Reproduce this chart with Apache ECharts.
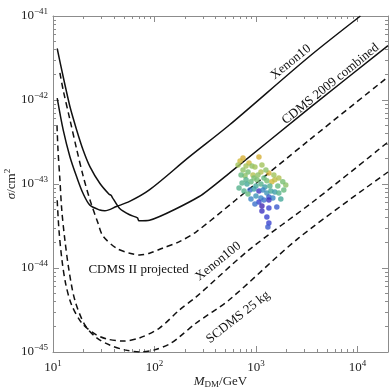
<!DOCTYPE html>
<html>
<head>
<meta charset="utf-8">
<script src="https://cdn.jsdelivr.net/npm/echarts@6/dist/echarts.min.js"></script>
<style>
  html, body { margin: 0; padding: 0; background: #fff; }
  #chart { width: 392px; height: 392px; }
</style>
</head>
<body>
<div id="chart"></div>
<script>
// exclusion curves, [M_DM in GeV, sigma in cm^2]
const xenon10 = [
  [11.0, 1.05e-42], [12.6, 4.4e-43], [14.7, 2.1e-43], [17.1, 1.22e-43], [19.8, 7.7e-44],
  [23.1, 5.6e-44], [28.9, 4.9e-44], [32.4, 4.8e-44], [42.2, 5.4e-44], [56.9, 6.2e-44],
  [89, 8.5e-44], [220, 2.1e-43], [543, 5.0e-43], [3311, 3.25e-42], [10700, 1e-41]
]
const cdms2009 = [
  [11.0, 4.1e-42], [12.6, 1.89e-42], [14.7, 8.3e-43], [17.1, 4.4e-43], [19.8, 2.54e-43],
  [23.1, 1.61e-43], [28.9, 1.02e-43], [35.5, 7.6e-44], [37.5, 7.3e-44], [38.5, 6.9e-44],
  [45.4, 5.1e-44], [56.9, 4.3e-44], [68, 3.95e-44], [70, 3.65e-44], [89.3, 3.7e-44],
  [276, 7.1e-44], [543, 1.34e-43], [3311, 7.9e-43], [20000, 4.44e-42]
]
const cdmsProjected = [
  [11.7, 2.1e-42], [12.6, 1.31e-42], [14.7, 5.8e-43], [17.1, 2.6e-43], [19.8, 1.25e-43],
  [23.1, 6.5e-44], [27.8, 3.4e-44], [31.1, 2.4e-44], [42.2, 1.72e-44], [56.9, 1.5e-44],
  [71.3, 1.43e-44], [89.3, 1.5e-44], [120, 1.72e-44], [176, 2.06e-44], [256, 2.68e-44],
  [632, 6.45e-44], [3311, 3.3e-43], [20000, 1.88e-42]
]
const xenon100 = [
  [11.0, 6.4e-44], [11.45, 2.83e-44], [12.25, 1.25e-44], [13.4, 6.3e-45], [15.3, 3.6e-45],
  [19.3, 2.2e-45], [25.8, 1.64e-45], [33.8, 1.43e-45], [48.5, 1.35e-45], [71.3, 1.47e-45],
  [112, 1.93e-45], [176, 3.16e-45], [256, 4.5e-45], [854, 1.64e-44], [3846, 6.45e-44],
  [20000, 3.16e-43]
]
const scdms25 = [
  [10.95, 5.0e-43], [11.2, 2.54e-43], [11.7, 1.12e-43], [12.2, 4.9e-44], [13.1, 2.15e-44],
  [14.35, 9.5e-45], [16.4, 4.16e-45], [20.6, 2.1e-45], [27.0, 1.47e-45], [36.2, 1.21e-45],
  [50.9, 1.06e-45], [71.3, 1.0e-45], [100, 1.06e-45], [140, 1.24e-45], [176, 1.51e-45],
  [256, 2.2e-45], [543, 4.16e-45], [2642, 2.28e-44], [20000, 1.39e-43]
]

// scan points
const scatterMass = [
  697, 745, 854, 1070, 798, 913, 977, 745, 835, 934, 780, 1119, 1341, 1023, 1198, 1281, 1434,
  1535, 729, 816, 893, 1000, 1119, 1225, 1371, 1642, 1967, 873, 956, 1070, 1171, 1281, 1402,
  1535, 1680, 763, 835, 1000, 1119, 1341, 1467, 1757, 1070, 1198, 1341, 1145, 1341, 1605,
  1145, 1281, 1341, 1311, 666, 713, 956, 1046, 1145, 1253, 1501, 1680, 1838, 893, 977, 1880,
  681, 798
]
const scatterSigma = [
  1.88e-43, 2.04e-43, 1.78e-43, 2.10e-43, 1.64e-43, 1.64e-43, 1.59e-43, 1.47e-43, 1.39e-43,
  1.28e-43, 1.25e-43, 1.39e-43, 1.35e-43, 1.12e-43, 1.18e-43, 1.09e-43, 1.06e-43, 1.12e-43,
  1.03e-43, 1.00e-43, 1.06e-43, 9.47e-44, 1.00e-43, 9.21e-44, 9.47e-44, 9.47e-44, 9.73e-44,
  8.48e-44, 8.72e-44, 8.26e-44, 8.48e-44, 7.82e-44, 8.26e-44, 8.03e-44, 7.82e-44, 8.26e-44,
  7.60e-44, 7.20e-44, 6.82e-44, 7.00e-44, 6.82e-44, 6.63e-44, 6.11e-44, 6.45e-44, 6.45e-44,
  5.48e-44, 5.18e-44, 5.33e-44, 4.77e-44, 4.05e-44, 3.44e-44, 3.08e-44, 1.68e-43, 1.28e-43,
  1.18e-43, 1.28e-43, 1.68e-43, 1.47e-43, 1.28e-43, 1.18e-43, 1.06e-43, 6.63e-44, 5.78e-44,
  8.48e-44, 8.96e-44, 1.12e-43
]
const scatterShade = [
  0.85, 0.9, 0.85, 0.9, 0.7, 0.65, 0.7, 0.65, 0.6, 0.75, 0.65, 0.75, 0.9, 0.6, 0.55, 0.6, 0.85,
  0.8, 0.5, 0.45, 0.55, 0.45, 0.5, 0.4, 0.5, 0.55, 0.65, 0.25, 0.4, 0.1, 0.3, 0.35, 0.45,
  0.4, 0.5, 0.5, 0.55, 0.35, 0.3, 0.2, 0.3, 0.45, 0.15, 0.25, 0.1, 0.05, 0.15, 0.2,
  0.1, 0.15, 0.15, 0.2, 0.7, 0.55, 0.6, 0.65, 0.7, 0.65, 0.7, 0.75, 0.6, 0.3, 0.25, 0.55,
  0.5, 0.5
]

// tick labels (decade exponents)
const massDecades = [1, 2, 3, 4]
const sigmaDecades = [-45, -44, -43, -42, -41]

const curveLabels = ['Xenon10', 'CDMS 2009 combined', 'Xenon100', 'SCDMS 25 kg', 'CDMS II projected']
// where each label sits, in data units, and its angle
const labelSpots = [
  { mass: 2203, sigma: 2.83e-42, angle: 39 },
  { mass: 5433, sigma: 1.55e-42, angle: 39 },
  { mass: 425, sigma: 1.2e-44, angle: 39 },
  { mass: 667, sigma: 2.6e-45, angle: 38 },
  { mass: 69.7, sigma: 9.5e-45, angle: 0 }
]

const MASS_MIN = 10
const MASS_MAX = 20000
const SIGMA_MIN = 1e-45
const SIGMA_MAX = 1e-41
const LX_MIN = Math.log10(MASS_MIN)
const LX_MAX = Math.log10(MASS_MAX)

const frameColor = '#8c8c8c'
const serif = '"Liberation Serif", "DejaVu Serif", serif'

// minor ticks at 2..9 x 10^n, in log space for the frame axes
const xMinor = []
for (let d = 1; d <= 4; d++) {
  for (let k = 2; k <= 9; k++) {
    const v = Math.log10(k) + d
    if (v <= LX_MAX + 1e-9) xMinor.push(v)
  }
}
const yMinor = []
for (let d = -45; d <= -42; d++) {
  for (let k = 2; k <= 9; k++) yMinor.push(Math.log10(k) + d)
}

const supRich = {
  b: { fontFamily: serif, fontSize: 13, color: '#222' },
  s: { fontFamily: serif, fontSize: 9, color: '#222', padding: [0, 0, 9, 0] }
}

function frameX(pos, ticks, len, line, labels) {
  return {
    type: 'value', position: pos, min: LX_MIN, max: LX_MAX,
    axisLine: { show: line, lineStyle: { color: frameColor, width: 1 } },
    axisTick: { show: true, inside: true, length: len, customValues: ticks,
      lineStyle: { color: frameColor, width: 1 } },
    axisLabel: labels
      ? { show: true, customValues: massDecades, margin: 7,
          formatter: v => '{b|10}{s|' + Math.round(v) + '}', rich: supRich }
      : { show: false },
    splitLine: { show: false }
  }
}
function frameY(pos, ticks, len, line, labels) {
  return {
    type: 'value', position: pos, min: -45, max: -41,
    axisLine: { show: line, lineStyle: { color: frameColor, width: 1 } },
    axisTick: { show: true, inside: true, length: len, customValues: ticks,
      lineStyle: { color: frameColor, width: 1 } },
    axisLabel: labels
      ? { show: true, customValues: sigmaDecades, margin: 5,
          formatter: v => '{b|10}{s|\u2212' + Math.abs(Math.round(v)) + '}', rich: supRich }
      : { show: false },
    splitLine: { show: false }
  }
}

const xBottom = frameX('bottom', massDecades, 6, true, true)
xBottom.name = '{i|M}{u|DM}/GeV'
xBottom.nameLocation = 'middle'
xBottom.nameGap = 22
xBottom.nameMoveOverlap = false
xBottom.nameTextStyle = {
  fontFamily: serif, fontSize: 13, color: '#222',
  rich: {
    i: { fontFamily: serif, fontSize: 13, fontStyle: 'italic', color: '#222' },
    u: { fontFamily: serif, fontSize: 9, color: '#222', padding: [6, 0, 0, 0] }
  }
}
const yLeft = frameY('left', sigmaDecades, 6, true, true)
yLeft.name = '{i|\u03c3}/cm{s|2}'
yLeft.nameLocation = 'middle'
yLeft.nameRotate = 90
yLeft.nameGap = 32
yLeft.nameMoveOverlap = false
yLeft.nameTextStyle = {
  fontFamily: serif, fontSize: 13, color: '#222',
  rich: {
    i: { fontFamily: serif, fontSize: 13, fontStyle: 'italic', color: '#222' },
    s: { fontFamily: serif, fontSize: 9, color: '#222', padding: [0, 0, 9, 0] }
  }
}

function curve(data, dashed, smooth) {
  return {
    type: 'line', xAxisIndex: 0, yAxisIndex: 0, data: data,
    showSymbol: false, smooth: smooth, silent: true,
    lineStyle: { color: '#111', width: 1.5, type: dashed ? [6, 4] : 'solid' },
    z: 2
  }
}

const scatterData = scatterMass.map((m, i) => [m, scatterSigma[i], scatterShade[i]])

const chart = echarts.init(document.getElementById('chart'), null, { renderer: 'canvas' })
chart.setOption({
  animation: false,
  backgroundColor: '#fff',
  grid: { left: 53, right: 4, top: 16, bottom: 40, outerBoundsMode: 'none', containLabel: false },
  xAxis: [
    { type: 'log', logBase: 10, min: MASS_MIN, max: MASS_MAX, show: false },
    xBottom,
    frameX('bottom', xMinor, 3, false, false),
    frameX('top', massDecades, 6, true, false),
    frameX('top', xMinor, 3, false, false)
  ],
  yAxis: [
    { type: 'log', logBase: 10, min: SIGMA_MIN, max: SIGMA_MAX, show: false },
    yLeft,
    frameY('left', yMinor, 3, false, false),
    frameY('right', sigmaDecades, 6, true, false),
    frameY('right', yMinor, 3, false, false)
  ],
  visualMap: {
    show: false, type: 'continuous', seriesIndex: 5, dimension: 2, min: 0, max: 1,
    inRange: { color: ['#4b1c9e', '#3b3fd0', '#3b82c8', '#3ea5a0', '#6cbc78', '#a8c458', '#d4b83a', '#d99a2b'] }
  },
  series: [
    curve(xenon10, false, 0.3),
    curve(cdms2009, false, 0.2),
    curve(cdmsProjected, true, 0.3),
    curve(xenon100, true, 0.3),
    curve(scdms25, true, 0.3),
    {
      type: 'scatter', xAxisIndex: 0, yAxisIndex: 0, data: scatterData,
      symbolSize: 5.5, silent: true, z: 3
    }
  ]
})

// curve names, placed through the chart's own coordinate conversion
const texts = labelSpots.map((p, i) => {
  const pt = chart.convertToPixel({ seriesIndex: 0 }, [p.mass, p.sigma])
  return {
    type: 'text', x: pt[0], y: pt[1], rotation: p.angle * Math.PI / 180, z: 10,
    style: {
      text: curveLabels[i], fill: '#111', font: '13px ' + serif,
      align: 'center', verticalAlign: 'middle'
    }
  }
})
chart.setOption({ graphic: texts })
</script>
</body>
</html>
